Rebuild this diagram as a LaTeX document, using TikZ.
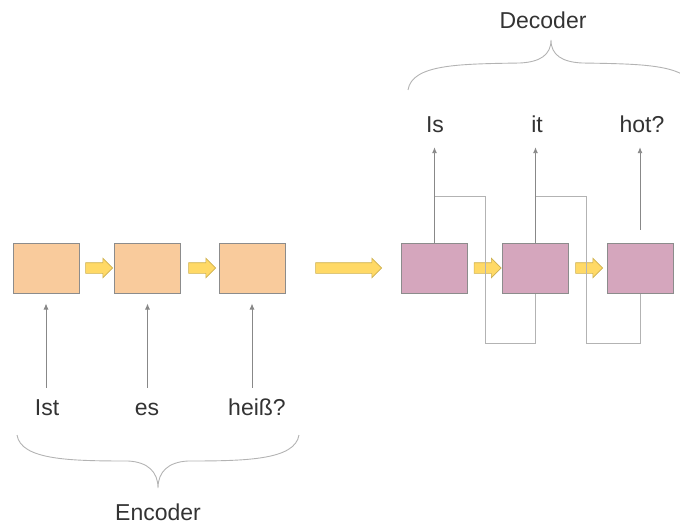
\documentclass[tikz,border=0pt]{standalone}
\usepackage{fontspec}
\setmainfont{Liberation Sans}
\usetikzlibrary{shapes.arrows,arrows.meta}
\definecolor{encfill}{HTML}{F9CB9C}
\definecolor{decfill}{HTML}{D5A6BD}
\definecolor{boxline}{HTML}{8C8C8C}
\definecolor{flowfill}{HTML}{FFD966}
\definecolor{flowline}{HTML}{CDB050}
\definecolor{wire}{HTML}{B3B3B3}
\definecolor{tip}{HTML}{888888}
\definecolor{ink}{HTML}{333333}

\begin{document}
\begin{tikzpicture}[x=1pt,y=-1pt,
  cell/.style={draw=boxline,line width=1pt,minimum width=66pt,minimum height=50pt,inner sep=0pt},
  enc/.style={cell,fill=encfill},
  dec/.style={cell,fill=decfill},
  fat/.style={single arrow,draw=flowline,fill=flowfill,inner sep=5pt,
    single arrow head extend=4.5pt,minimum height=#1,line width=0.6pt},
  word/.style={text=ink,font=\fontsize{23}{27}\selectfont,inner sep=0pt,
    text height=17pt,text depth=5pt,anchor=base},
  up/.style={draw=tip,line width=0.9pt,-{Latex[length=6pt,width=5pt]}},
  back/.style={draw=wire,line width=0.9pt},
  curly/.style={draw=wire,line width=0.9pt}]
\useasboundingbox (0,0) rectangle (680,524);

% encoder
\node[enc] (e1) at (46,268) {};
\node[enc] (e2) at (147.5,268) {};
\node[enc] (e3) at (252,268) {};
\node[fat=27pt] (f1) at (96.5,268) {};
\node[fat=27pt] (f2) at (199.5,268) {};

\node[word] (ist) at (47,415) {Ist};
\node[word] (es) at (147,415) {es};
\node[word] (heiss) at (257,415) {heiß?};

\draw[up,shorten <=10pt,shorten >=10pt] (ist.north -| e1) -- (e1);
\draw[up,shorten <=10pt,shorten >=10pt] (es.north -| e2) -- (e2);
\draw[up,shorten <=10pt,shorten >=10pt] (heiss.north -| e3) -- (e3);

% hand over
\node[fat=66pt] (hand) at (346,268) {};

% decoder
\node[dec] (d1) at (434.5,268) {};
\node[dec] (d2) at (535.5,268) {};
\node[dec] (d3) at (640,268) {};
\node[fat=27pt] (f3) at (485,268) {};
\node[fat=27pt] (f4) at (586.5,268) {};

\draw[back] (d1.north) -- ++(0,-46) -- ++(50.5,0) -- ++(0,147) -| (d2.south);
\draw[back] (d2.north) -- ++(0,-46) -- ++(50.5,0) -- ++(0,147) -| (d3.south);

\node[word] (is) at (435,132) {Is};
\node[word] (it) at (537,132) {it};
\node[word] (hot) at (642,132) {hot?};

\draw[up,shorten >=10pt] (d1.north) -- (is.south -| d1);
\draw[up,shorten >=10pt] (d2.north) -- (it.south -| d2);
\draw[up,shorten <=13pt,shorten >=10pt] (d3.north) -- (hot.south -| d3);

% braces
\draw[curly] (17,435) .. controls (21,460) and (70,461) .. (128,461)
  .. controls (148,462) and (158,472) .. (158,488)
  .. controls (158,472) and (168,462) .. (188,461)
  .. controls (246,461) and (295,460) .. (299,435);
\node[word,anchor=center,text height=,text depth=] (enc) at (158,512) {Encoder};

\draw[curly] (408,90) .. controls (412,64) and (460,64) .. (520,63)
  .. controls (540,62) and (551,55) .. (551,40)
  .. controls (551,55) and (562,62) .. (582,63)
  .. controls (642,64) and (690,64) .. (694,90);
\node[word,anchor=center,text height=,text depth=] (dcd) at (543,20) {Decoder};
\end{tikzpicture}
\end{document}
